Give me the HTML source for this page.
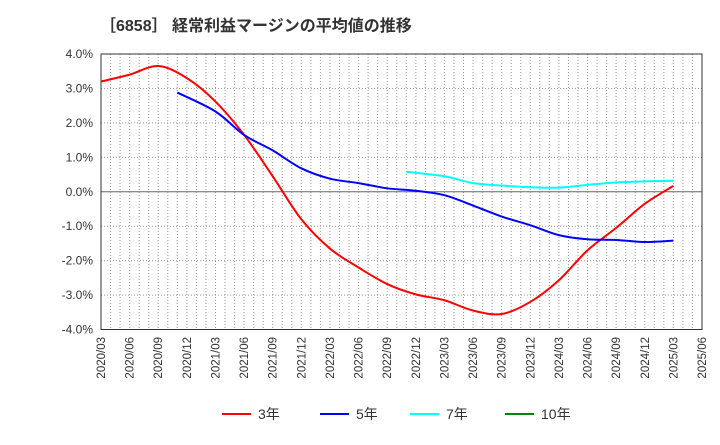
<!DOCTYPE html>
<html><head><meta charset="utf-8"><style>
body{margin:0;background:#fff;}
svg{font-family:"Liberation Sans","Noto Sans CJK JP",sans-serif;}
</style></head><body>
<svg id="chart" width="720" height="440" xmlns="http://www.w3.org/2000/svg">
<text x="100" y="31" font-size="16" font-weight="bold" fill="#333">［6858］ 経常利益マージンの平均値の推移</text>
<g id="grid"></g><g id="axes"></g><g id="series"></g><g id="legend"></g>
</svg>
<script>
const xLabels=["2020/03","2020/06","2020/09","2020/12","2021/03","2021/06","2021/09","2021/12","2022/03","2022/06","2022/09","2022/12","2023/03","2023/06","2023/09","2023/12","2024/03","2024/06","2024/09","2024/12","2025/03","2025/06"];
const yTicks=[4,3,2,1,0,-1,-2,-3,-4];
const months3=[0,3,6,9,12,15,18,21,24,27,30,33,36,39,42,45,48,51,54,57,60];
const vals3=[3.2,3.4,3.65,3.3,2.62,1.65,0.45,-0.8,-1.65,-2.2,-2.68,-2.98,-3.15,-3.45,-3.55,-3.2,-2.57,-1.7,-1.05,-0.35,0.17];
const months5=[8,12,15,18,21,24,27,30,33,36,39,42,45,48,51,54,57,60];
const vals5=[2.88,2.33,1.65,1.2,0.68,0.38,0.25,0.1,0.03,-0.1,-0.4,-0.72,-0.97,-1.26,-1.38,-1.4,-1.46,-1.42];
const months7=[32,36,39,42,45,48,51,54,57,60];
const vals7=[0.58,0.45,0.25,0.18,0.13,0.12,0.2,0.27,0.3,0.32];
const months10=[];
const vals10=[];
const X0=101,X1=702,Y0=54,Y1=329.5,NM=63;
const xs=m=>X0+(X1-X0)*m/NM;
const ys=v=>Y0+(4-v)*(Y1-Y0)/8;
const NS="http://www.w3.org/2000/svg";
function mk(tag,attrs,parent){const e=document.createElementNS(NS,tag);for(const k in attrs)e.setAttribute(k,attrs[k]);parent.appendChild(e);return e;}
const grid=document.getElementById('grid'),axes=document.getElementById('axes'),series=document.getElementById('series'),legend=document.getElementById('legend');
for(let m=1;m<NM;m++){const l=mk('line',{x1:xs(m),x2:xs(m),y1:Y0,y2:Y1,stroke:'#999','stroke-dasharray':'1,2','stroke-width':1},grid);

}
yTicks.forEach(v=>{const y=ys(v);
const l=mk('line',{x1:X0,x2:X1,y1:y,y2:y,stroke:v===0?'#666':'#999','stroke-dasharray':v===0?'':'1,2','stroke-width':1},grid);


const t=mk('text',{x:X0-8,y:y+4,'text-anchor':'end','font-size':12,fill:'#333'},axes);t.textContent=v.toFixed(1)+'%';

});
const fr=mk('rect',{x:X0,y:Y0,width:X1-X0,height:Y1-Y0,fill:'none',stroke:'#333','stroke-width':1},axes);


xLabels.forEach((s,i)=>{const x=xs(i*3);
const t=mk('text',{x:0,y:0,transform:`translate(${x+4},337) rotate(-90)`,'text-anchor':'end','font-size':11.5,fill:'#333'},axes);t.textContent=s;

});
function path(ms,vs){if(!ms.length)return'';const p=ms.map((m,i)=>[xs(m),ys(vs[i])]);let d=`M${p[0][0]},${p[0][1]}`;
for(let i=0;i<p.length-1;i++){const a=p[i-1]||p[i],b=p[i],c=p[i+1],e=p[i+2]||c;
d+=` C${b[0]+(c[0]-a[0])/6},${b[1]+(c[1]-a[1])/6} ${c[0]-(e[0]-b[0])/6},${c[1]-(e[1]-b[1])/6} ${c[0]},${c[1]}`;}return d;}
[[months3,vals3,'#f00','series-3y'],[months5,vals5,'#00f','series-5y'],[months7,vals7,'#0ff','series-7y'],[months10,vals10,'#080','series-10y']].forEach(s=>{
if(!s[0].length)return;
const p=mk('path',{d:path(s[0],s[1]),fill:'none',stroke:s[2],'stroke-width':2},series);

});
[['3年','#f00',222],['5年','#00f',320],['7年','#0ff',410],['10年','#080',505]].forEach(l=>{
const g=mk('g',{},legend);


mk('line',{x1:l[2],x2:l[2]+29,y1:414,y2:414,stroke:l[1],'stroke-width':2},g);
const t=mk('text',{x:l[2]+36,y:419,'font-size':14,fill:'#333'},g);t.textContent=l[0];});
</script>
</body></html>
